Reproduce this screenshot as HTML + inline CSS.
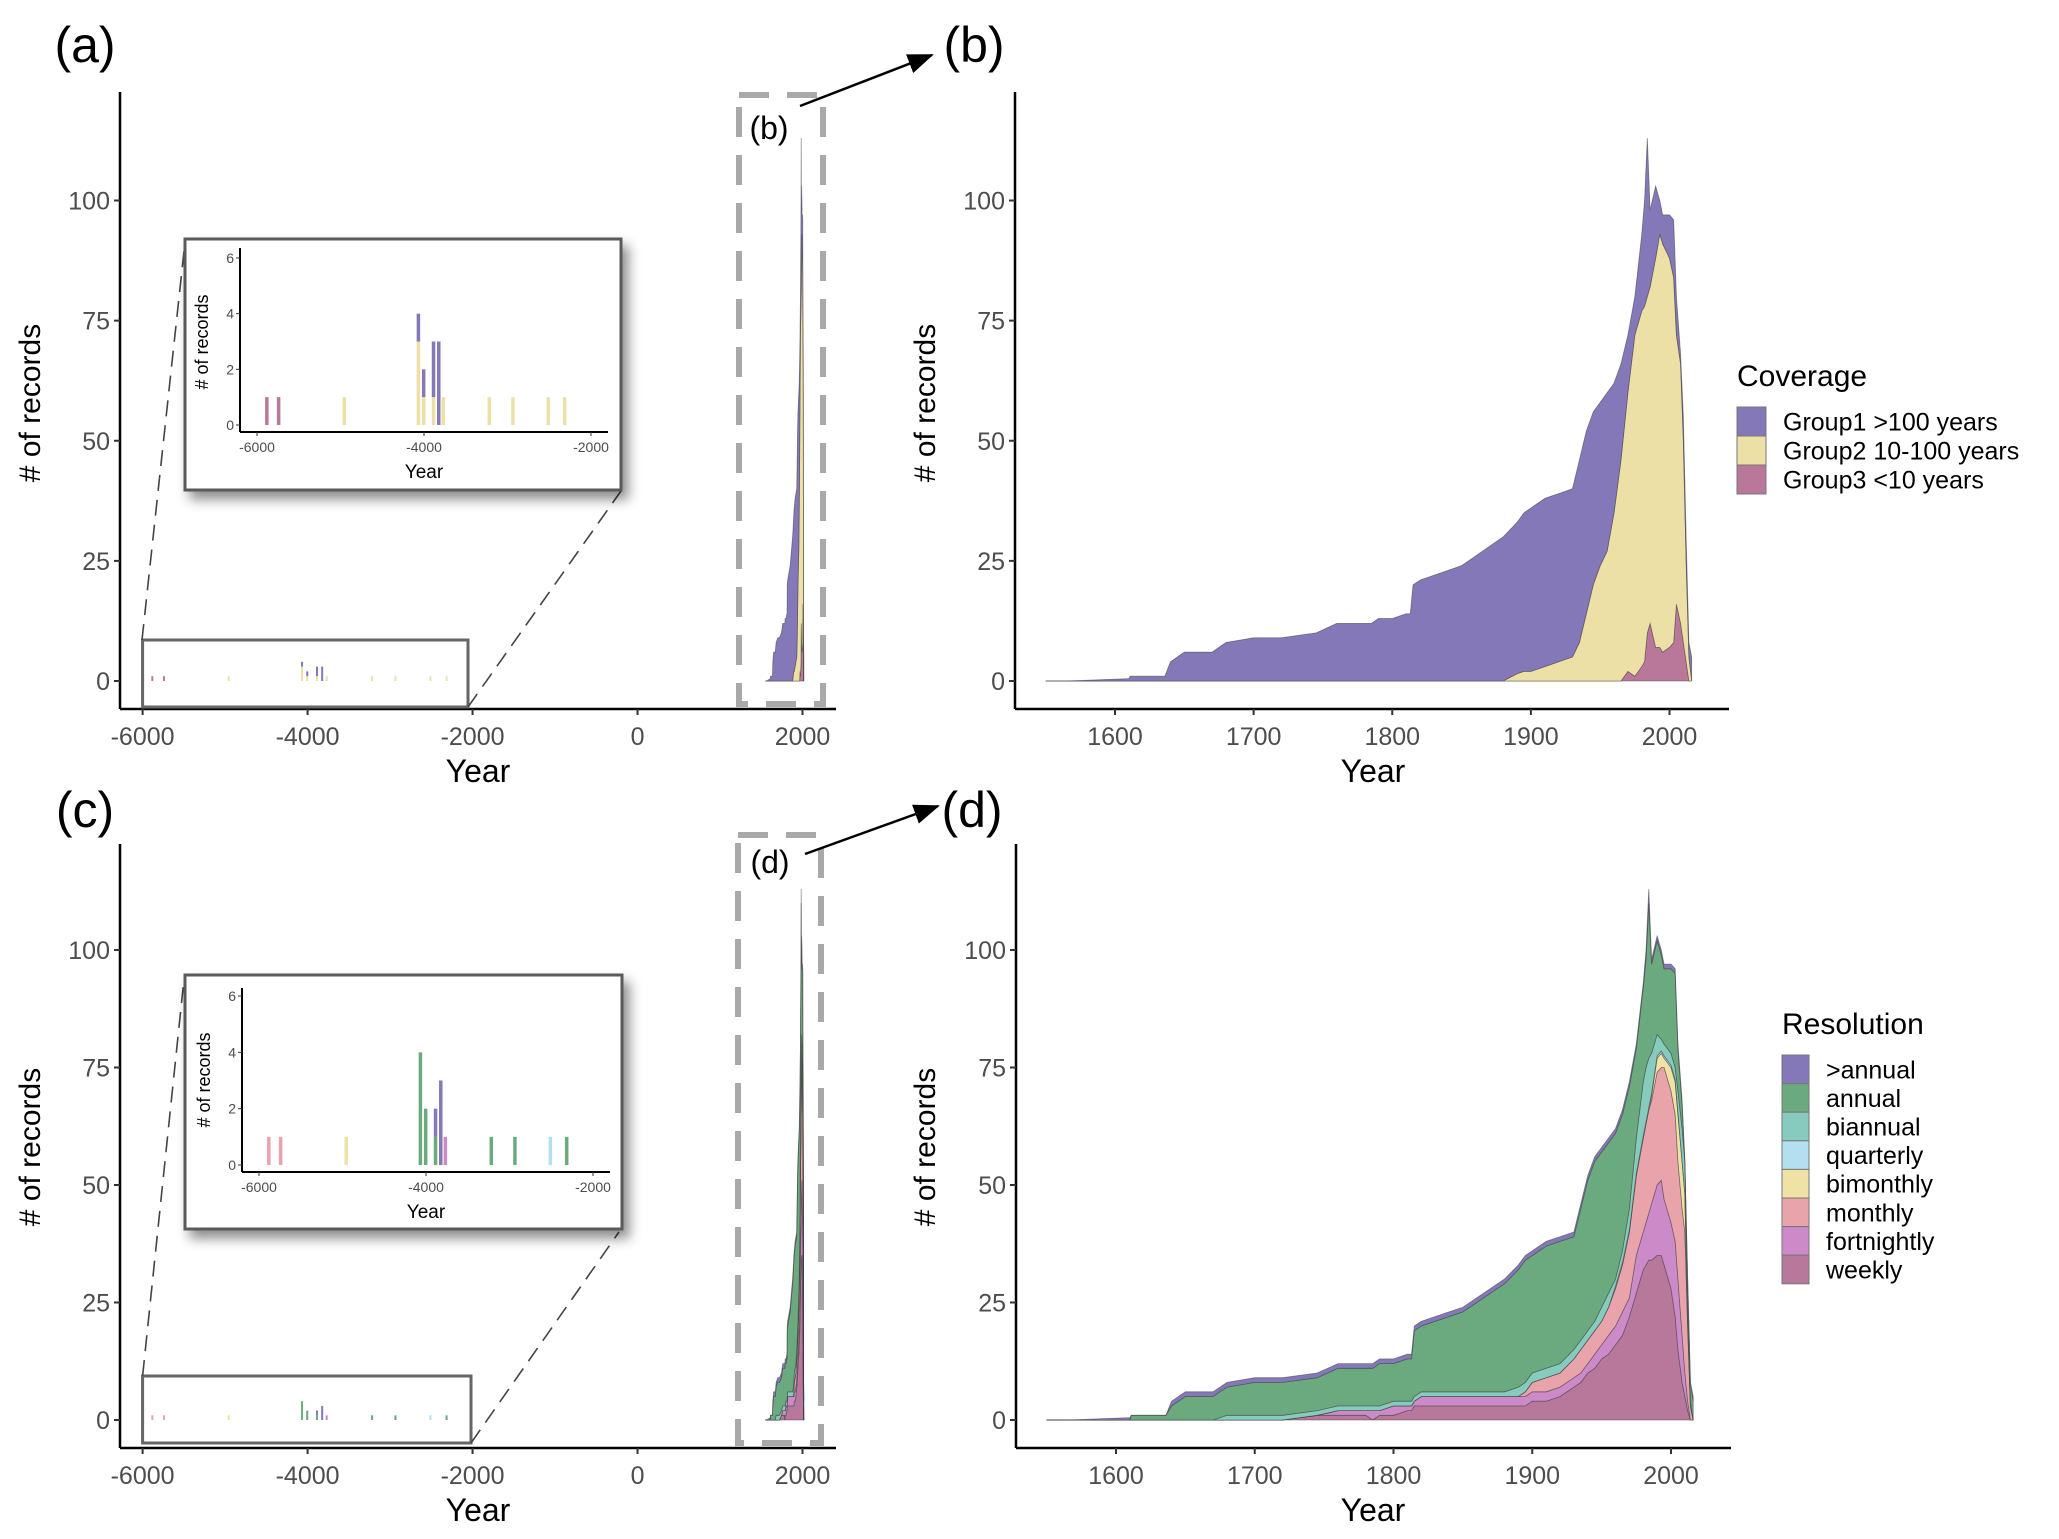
<!DOCTYPE html>
<html><head><meta charset="utf-8">
<style>
html,body{margin:0;padding:0;background:#fff;}
svg{display:block;}
text{font-family:"Liberation Sans Narrow","Liberation Sans",sans-serif;}
.tick{fill:#4d4d4d;font-size:25px;}
.ttl{fill:#000;font-family:"Liberation Sans",sans-serif;font-size:30px;}
.plab{fill:#000;font-family:"Liberation Sans",sans-serif;font-size:50px;}
</style></head>
<body>
<svg id="fig" width="2059" height="1539" viewBox="0 0 2059 1539" xmlns="http://www.w3.org/2000/svg">
<defs>
<filter id="sh" x="-10%" y="-10%" width="130%" height="130%"><feDropShadow dx="6" dy="8" stdDeviation="6" flood-color="#000" flood-opacity="0.45"/></filter>
<marker id="ah2" markerWidth="26" markerHeight="20" refX="24" refY="10" orient="auto" markerUnits="userSpaceOnUse"><path d="M0,0 L26,10 L0,20 z" fill="#000"/></marker>
</defs>
</svg>
<script>
// ---- data ----
const years=[1550,1565,1610,1611,1636,1640,1650,1670,1680,1700,1720,1745,1760,1780,1785,1790,1800,1810,1813,1815,1820,1840,1850,1860,1870,1880,1890,1895,1900,1910,1920,1930,1935,1940,1945,1950,1955,1960,1965,1970,1975,1980,1982,1984,1986,1990,1993,1995,2000,2003,2005,2008,2010,2012,2014,2016];
// Coverage (panel a/b)
const group1=[0,0,0.5,1,1,4,6,6,8,9,9,10,12,12,12,13,13,14,14,20,21,23,24,26,28,30,31.5,33,34,35,35,35,38,38,36,34,33,27,20,12,8,16,22,33,16,15,7,6,9,12,8,2,5,5,3,5];
const group2=[0,0,0,0,0,0,0,0,0,0,0,0,0,0,0,0,0,0,0,0,0,0,0,0,0,0,1.5,2,2,3,4,5,8,14,20,24,27,35,46,58,71,74,74,70,70,81,86,85,81,76,56,54,42,21,5,0];
const group3=[0,0,0,0,0,0,0,0,0,0,0,0,0,0,0,0,0,0,0,0,0,0,0,0,0,0,0,0,0,0,0,0,0,0,0,0,0,0,0,2,1,3,4,10,12,7,7,6,7,8,16,12,8,4,0,0];
// Resolution (panel c/d), stacked bottom->top
const weekly=[0,0,0,0,0,0,0,0,0,0,0,1,1,1,0,1,1,2,2,3,3,3,3,3,3,3,3,3,4,4,5,7,8,10,11,13,14,16,18,22,27,32,33,34,34,35,35,33,28,22,15,8,5,2,0,0];
const fortnightly=[0,0,0,0,0,0,0,0,0,0,0,0,1,1,2,1,2,1,1,1,2,2,2,2,2,2,2,2,2,2,2,2,2,2,3,3,4,4,5,4,8,8,9,10,12,15,16,14,14,16,15,10,5,2,0,0];
const monthly=[0,0,0,0,0,0,0,0,0,0,0,0,0,0,0,0,0,0,0,0,0,0,0,0,0,0,0,1,2,3,3,4,5,5,5,5,6,8,10,14,17,20,21,22,22,24,24,28,28,27,25,27,30,16,3,0];
const bimonthly=[0,0,0,0,0,0,0,0,0,0,0,0,0,0,0,0,0,0,0,0,0,0,0,0,0,0,0,0,0,0,0,0,0,0,0,0,0,0,0,0,0,0,0,0,1,3,3,2,5,7,10,10,8,2,0,0];
const quarterly=[0,0,0,0,0,0,0,0,0,0,0,0,0,0,0,0,0,0,0,0,0,0,0,0,0,0,0,0,0,0,0,0,0,0,0,0,0,0.5,0.5,0.5,0.5,0.5,0.5,0.5,0.5,0.5,0.5,0.5,0.5,0.5,0.5,0,0,0,0,0];
const biannual=[0,0,0,0,0,0,0,0,1,1,1,1,1,1,1,1,1,1,1,1,1,1,1,1,1,1,2,2,2,2,2,2,2,2,2,3,3,1.5,2.5,4.5,7.5,11.5,11.5,10.5,8.5,4.5,2.5,2.5,2.5,2.5,4.5,7,7,3,1,0];
const annual=[0,0,0,1,1,3,5,5,6,7,7,7,8,8,8,9,8,9,9,14,14,16,17,19,21,23,25,26,25,26,26,24,28,32,34,33,32,31,29,26,19,20,23,33,19,20,18,16,18,20,9,5,0,5,4,4];
const xannual=[0,0,0.5,0,0,1,1,1,1,1,1,1,1,1,1,1,1,1,1,1,1,1,1,1,1,1,1,1,1,1,1,1,1,1,1,1,1,1,1,1,1,1,2,3,1,1,1,1,1,1,1,1,0,0,0,1];
// ancient records (insets)
const ancYears=[-5882,-5741,-4955,-4067,-4004,-3886,-3823,-3768,-3218,-2935,-2511,-2315];
const ancG1=[0,0,0,1,1,2,3,0,0,0,0,0];
const ancG2=[0,0,1,3,1,1,0,1,1,1,1,1];
const ancG3=[1,1,0,0,0,0,0,0,0,0,0,0];
const ancWeekly=[0,0,0,0,0,0,0,0,0,0,0,0];
const ancFortnightly=[0,0,0,0,0,0,0,1,0,0,0,0];
const ancMonthly=[1,1,0,0,0,0,0,0,0,0,0,0];
const ancBimonthly=[0,0,1,0,0,0,0,0,0,0,0,0];
const ancQuarterly=[0,0,0,0,0,0,0,0,0,0,1,0];
const ancBiannual=[0,0,0,0,0,0,0,0,0,0,0,0];
const ancAnnual=[0,0,0,4,2,1,0,0,1,1,0,1];
const ancXannual=[0,0,0,0,0,1,3,0,0,0,0,0];
const yTicks=[0,25,50,75,100];
const xTicksWide=[-6000,-4000,-2000,0,2000];
const xTicksZoom=[1600,1700,1800,1900,2000];
const insetYTicks=[0,2,4,6];
const insetXTicks=[-6000,-4000,-2000];
const covNames=['Group1 >100 years','Group2 10-100 years','Group3 <10 years'];
const resNames=['>annual','annual','biannual','quarterly','bimonthly','monthly','fortnightly','weekly'];

const covColors=['#8478b8','#ede0a6','#b9789a'];
const resColors={weekly:'#b7789b',fortnightly:'#cc8ac9',monthly:'#e8a3ab',bimonthly:'#efe2a4',quarterly:'#b4dff0',biannual:'#86cbbd',annual:'#6aaa7e',xannual:'#8478b8'};

const svg=document.getElementById('fig');
const NS='http://www.w3.org/2000/svg';
function mk(tag,attrs,parent){const e=document.createElementNS(NS,tag);for(const k in attrs)e.setAttribute(k,attrs[k]);(parent||svg).appendChild(e);return e;}
function lin(d0,d1,r0,r1){return v=>r0+(v-d0)*(r1-r0)/(d1-d0);}

function stack(g,series,colors,names,xs,ys,yr){
  let base=yr.map(()=>0);
  series.forEach((s,k)=>{
    const top=base.map((b,i)=>b+s[i]);
    let pts=yr.map((y,i)=>xs(y)+','+ys(top[i]));
    for(let i=yr.length-1;i>=0;i--)pts.push(xs(yr[i])+','+ys(base[i]));
    const p=mk('polygon',{points:pts.join(' '),fill:colors[k],stroke:'#3a3a3a','stroke-width':0.8,'stroke-opacity':0.55},g);
    
    
    base=top;
  });
}
function bars(g,series,colors,names,xs,ys,yr,w){
  yr.forEach((y,i)=>{
    let b=0;
    series.forEach((s,k)=>{
      if(s[i]>0){
        const r=mk('rect',{x:xs(y)-w/2,y:ys(b+s[i]),width:w,height:ys(b)-ys(b+s[i]),fill:colors[k]},g);
        
        
      }
      b+=s[i];
    });
  });
}
function text(g,x,y,str,cls,anchor,extra){const t=mk('text',Object.assign({x:x,y:y,class:cls||'tick','text-anchor':anchor||'middle'},extra||{}),g);t.textContent=str;return t;}
function axes(g,o){
  mk('line',{x1:o.ax,y1:o.top,x2:o.ax,y2:o.ay,stroke:'#000','stroke-width':2.5},g);
  mk('line',{x1:o.ax,y1:o.ay,x2:o.right,y2:o.ay,stroke:'#000','stroke-width':2.5},g);
  o.yt.forEach(v=>{const y=o.ys(v);mk('line',{x1:o.ax-6,y1:y,x2:o.ax,y2:y,stroke:'#333','stroke-width':2},g);const t=text(g,o.ax-10,y+9,String(v),'tick','end');});
  o.xt.forEach(v=>{const x=o.xs(v);mk('line',{x1:x,y1:o.ay,x2:x,y2:o.ay+6,stroke:'#333','stroke-width':2},g);const t=text(g,x,o.ay+36,String(v),'tick','middle');});
  const xt=text(g,o.xlx,o.xly,'Year','ttl','middle',{style:'font-size:32px'});
  
  const yt=text(g,0,0,'# of records','ttl','middle',{transform:'translate('+o.ylx+','+o.yly+') rotate(-90)'});
  
}
function inset(g,o,series,colors,names){
  const r=mk('rect',{x:o.bx,y:o.by,width:o.bw,height:o.bh,fill:'#fff',stroke:'#5a5a5a','stroke-width':3,filter:'url(#sh)'},g);
  
  const xs=lin(-6000,-2000,o.x0,o.x1), ys=lin(0,6,o.y0,o.y6);
  bars(g,series,colors,names,xs,ys,ancYears,3.5);
  mk('line',{x1:o.ax,y1:o.top,x2:o.ax,y2:o.ay,stroke:'#000','stroke-width':2},g);
  mk('line',{x1:o.ax,y1:o.ay,x2:o.right,y2:o.ay,stroke:'#000','stroke-width':2},g);
  insetYTicks.forEach(v=>{const y=ys(v);mk('line',{x1:o.ax-4,y1:y,x2:o.ax,y2:y,stroke:'#333'},g);text(g,o.ax-6,y+5,String(v),'tick','end',{style:'font-size:14px'});});
  insetXTicks.forEach(v=>{const x=xs(v);mk('line',{x1:x,y1:o.ay,x2:x,y2:o.ay+4,stroke:'#333'},g);text(g,x,o.ay+20,String(v),'tick','middle',{style:'font-size:14px'});});
  text(g,(o.x0+o.x1)/2,o.yl,'Year','ttl','middle',{style:'font-size:19px'});
  text(g,0,0,'# of records','ttl','middle',{style:'font-size:18px',transform:'translate('+o.ytx+','+o.yty+') rotate(-90)'});
}

function widePanel(id,o,series,colors,names,anc,ancColors){
  const g=mk('g',{});
  const xs=lin(-6000,2000,142.6,802.5), ys=lin(0,100,o.y0,o.y100);
  const d=mk('rect',{x:o.dx,y:o.dy,width:o.dw,height:o.dh,fill:'none',stroke:'#a9a9a9','stroke-width':6,'stroke-dasharray':'30 18'},g);
  
  stack(g,series,colors,names,xs,ys,years);
  bars(g,anc,ancColors,names,xs,ys,ancYears,2);
  axes(g,{ax:120,top:o.top,ay:o.ay,right:836,xs:xs,ys:ys,yt:yTicks,xt:xTicksWide,xlx:478,xly:o.ay+73,ylx:40,yly:o.yly});
  const sb=mk('rect',{x:142.6,y:o.sy,width:o.sw,height:o.sh,fill:'none',stroke:'#666','stroke-width':3},g);
  
  o.lines.forEach(l=>mk('line',{x1:l[0],y1:l[1],x2:l[2],y2:l[3],stroke:'#444','stroke-width':1.6,'stroke-dasharray':'16 9'},g));
  inset(g,o.ins,anc,ancColors,names);
  const sl=text(g,o.sl[0],o.sl[1],o.sl[2],'ttl','middle',{style:'font-size:32px'});
  
  const ar=mk('line',{x1:o.ar[0],y1:o.ar[1],x2:o.ar[2],y2:o.ar[3],stroke:'#000','stroke-width':2.5,'marker-end':'url(#ah2)'},g);
  
  return g;
}
function zoomPanel(id,o,series,colors,names,legTitle,legNames,legColors){
  const g=mk('g',{});
  const xs=lin(1600,2000,o.x1600,o.x2000), ys=lin(0,100,o.y0,o.y100);
  stack(g,series,colors,names,xs,ys,years);
  axes(g,{ax:o.ax,top:o.top,ay:o.ay,right:o.right,xs:xs,ys:ys,yt:yTicks,xt:xTicksZoom,xlx:1373,xly:o.ay+73,ylx:935,yly:o.yly});
  const lg=mk('g',{},g);
  const lt=text(lg,o.lx,o.lty,legTitle,'ttl','start',{style:'font-size:30px'});
  
  legNames.forEach((n,i)=>{
    const y=o.ly0+i*o.lh;
    const r=mk('rect',{x:o.lx,y:y,width:o.lw,height:o.lh,fill:legColors[i],stroke:'#777','stroke-width':1},lg);
    
    const t=text(lg,o.lx+o.lw+17,y+o.lh/2+9,n,'ttl','start',{style:'font-size:25px'});
    
  });
  return g;
}

const covSeries=[group3,group2,group1], covCol=[covColors[2],covColors[1],covColors[0]], covN=['group3','group2','group1'];
const ancCov=[ancG3,ancG2,ancG1];
widePanel('panel-a',{y0:681,y100:200.5,top:92,ay:709,yly:403,dx:739,dy:95,dw:84,dh:609,sy:640,sw:325.4,sh:67,
  lines:[[142,640,185,242],[468,707,621,491]],
  ins:{bx:185,by:239,bw:436,bh:251,x0:257,x1:591,y0:425,y6:258,ax:240,top:248,ay:432,right:608,yl:478,ytx:208,yty:342},
  sl:[769,139,'(b)'],ar:[800,106,932,55]},covSeries,covCol,covN,ancCov,covCol);
zoomPanel('panel-b',{x1600:1115,x2000:1669.5,y0:681,y100:200.5,ax:1015,top:92,ay:709,right:1729,yly:403,
  lx:1737,lty:386,ly0:407,lh:29,lw:29},covSeries,covCol,covN,'Coverage',covNames,covColors);

const resSeries=[weekly,fortnightly,monthly,bimonthly,quarterly,biannual,annual,xannual];
const resN=['weekly','fortnightly','monthly','bimonthly','quarterly','biannual','annual','xannual'];
const resCol=resN.map(n=>resColors[n]);
const ancRes=[ancWeekly,ancFortnightly,ancMonthly,ancBimonthly,ancQuarterly,ancBiannual,ancAnnual,ancXannual];
widePanel('panel-c',{y0:1420,y100:950,top:844,ay:1448,yly:1147,dx:738,dy:835,dw:83,dh:608,sy:1376,sw:328.4,sh:67,
  lines:[[142.6,1376,184,979],[471,1443,619,1232]],
  ins:{bx:185,by:975,bw:437,bh:254,x0:259,x1:593,y0:1165,y6:996,ax:242,top:988,ay:1172,right:610,yl:1218,ytx:210,yty:1080},
  sl:[770,873,'(d)'],ar:[805,854,938,806]},resSeries,resCol,resN,ancRes,resCol);
zoomPanel('panel-d',{x1600:1116,x2000:1671,y0:1420,y100:950,ax:1016,top:844,ay:1448,right:1731,yly:1147,
  lx:1782,lty:1034,ly0:1055,lh:28.6,lw:27},resSeries,resCol,resN,'Resolution',resNames,
  ['#8478b8','#6aaa7e','#86cbbd','#b4dff0','#efe2a4','#e8a3ab','#cc8ac9','#b7789b']);

[['(a)',85,62,'panel-label-a'],['(b)',974,62,'panel-label-b'],['(c)',85,827,'panel-label-c'],['(d)',972,827,'panel-label-d']].forEach(a=>{
  const t=text(svg,a[1],a[2],a[0],'plab','middle');
  
  
});
</script>
</body></html>
